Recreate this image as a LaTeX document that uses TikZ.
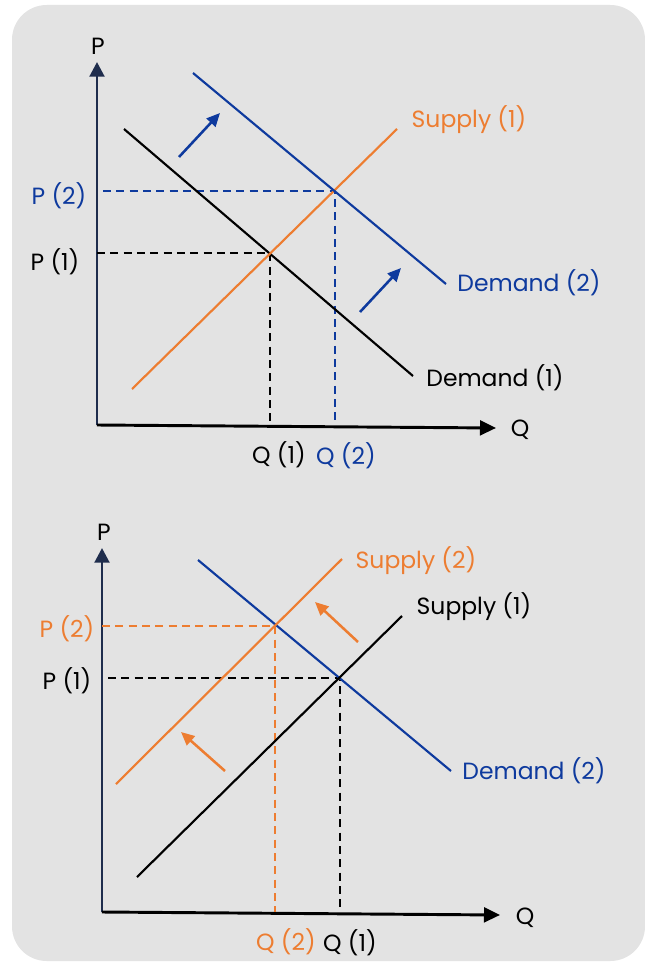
\documentclass[tikz,border=0pt]{standalone}
\usepackage{fontspec}
\setmainfont{Poppins}
\usetikzlibrary{arrows.meta}
\definecolor{bg}{RGB}{227,227,227}
\definecolor{ora}{RGB}{237,125,49}
\definecolor{blu}{RGB}{14,58,158}
\definecolor{navy}{RGB}{31,45,77}
\begin{document}
\begin{tikzpicture}[x=0.75pt,y=-0.75pt,
  lbl/.style={inner sep=0pt,font=\fontsize{17.6}{21}\selectfont},
  curve/.style={line width=1.6pt},
  guide/.style={line width=1.4pt,dash pattern=on 6pt off 4pt},
  yaxis/.style={line width=2.2pt,draw=navy,-{Triangle[length=11pt,width=11pt]}},
  xaxis/.style={line width=2.2pt,draw=black,-{Triangle[length=12pt,width=11pt]}},
  shiftarr/.style={line width=1.9pt,-{Triangle[length=10pt,width=9pt]}}]
\useasboundingbox (0,0) rectangle (645,963);
\fill[bg,rounded corners=26pt] (12,5) rectangle (645,961);
% ---------- top chart ----------
\coordinate (o1) at (97,425);
\coordinate (ytop1) at (97,62);
\coordinate (xend1) at (496,428);
\draw[yaxis] (o1) -- (ytop1);
\draw[xaxis] (o1) -- (xend1);
\coordinate (d1a) at (124,129); \coordinate (d1b) at (413,376);
\coordinate (s1a) at (132,389); \coordinate (s1b) at (397,129);
\coordinate (d2a) at (193,73);  \coordinate (d2b) at (446,284);
\coordinate (e1) at (270,253);  \coordinate (e2) at (335,191);
\draw[guide,black] (97,253) -- (e1) -- (270,425);
\draw[guide,blu] (103,191) -- (e2) -- (335,425);
\draw[curve,black] (d1a) -- (d1b);
\draw[curve,ora] (s1a) -- (s1b);
\draw[curve,blu] (d2a) -- (d2b);
\coordinate (a1s) at (179,157); \coordinate (a1e) at (220,113);
\coordinate (a2s) at (360,312); \coordinate (a2e) at (401,268);
\draw[shiftarr,blu] (a1s) -- (a1e);
\draw[shiftarr,blu] (a2s) -- (a2e);
\node[lbl] (tP) at (98,46) {P};
\node[lbl] (tQ) at (520,430) {Q};
\node[lbl,text=blu] (tp2) at (59,196) {P (2)};
\node[lbl] (tp1) at (55,262) {P (1)};
\node[lbl] (tq1) at (279,455) {Q (1)};
\node[lbl,text=blu] (tq2) at (346,456) {Q (2)};
\node[lbl,text=ora] (ts1) at (469,120) {Supply (1)};
\node[lbl,text=blu] (td2) at (529,283) {Demand (2)};
\node[lbl] (td1) at (495,378) {Demand (1)};
% ---------- bottom chart ----------
\coordinate (o2) at (102,912);
\coordinate (ytop2) at (102,548);
\coordinate (xend2) at (500,915);
\draw[yaxis] (o2) -- (ytop2);
\draw[xaxis] (o2) -- (xend2);
\coordinate (bd2a) at (198,560); \coordinate (bd2b) at (451,771);
\coordinate (bs2a) at (116,784); \coordinate (bs2b) at (342,559);
\coordinate (bs1a) at (137,877); \coordinate (bs1b) at (402,616);
\coordinate (f2) at (275,626);   \coordinate (f1) at (340,678);
\draw[guide,ora] (102,626) -- (f2) -- (275,912);
\draw[guide,black] (108,678) -- (f1) -- (340,912);
\draw[curve,blu] (bd2a) -- (bd2b);
\draw[curve,ora] (bs2a) -- (bs2b);
\draw[curve,black] (bs1a) -- (bs1b);
\coordinate (b1s) at (358,642); \coordinate (b1e) at (315,602);
\coordinate (b2s) at (225,771); \coordinate (b2e) at (181,732);
\draw[shiftarr,ora] (b1s) -- (b1e);
\draw[shiftarr,ora] (b2s) -- (b2e);
\node[lbl] (bP) at (104,532) {P};
\node[lbl] (bQ) at (525,918) {Q};
\node[lbl,text=ora] (bp2) at (67,629) {P (2)};
\node[lbl] (bp1) at (67,681) {P (1)};
\node[lbl,text=ora] (bq2) at (286,942) {Q (2)};
\node[lbl] (bq1) at (350,943) {Q (1)};
\node[lbl,text=ora] (bs2) at (416,561) {Supply (2)};
\node[lbl] (bs1) at (474,607) {Supply (1)};
\node[lbl,text=blu] (bd2) at (534,771) {Demand (2)};
\end{tikzpicture}
\end{document}
